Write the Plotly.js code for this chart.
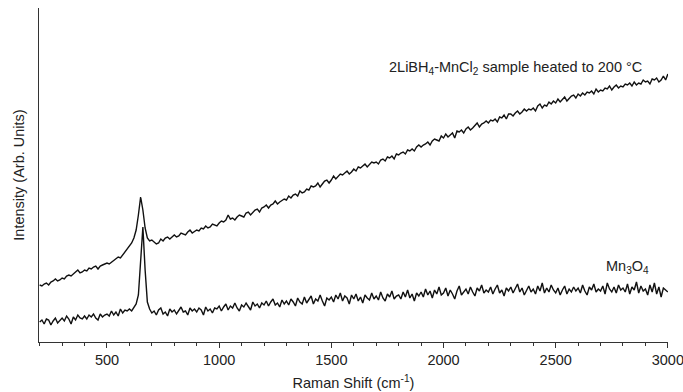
<!DOCTYPE html>
<html>
<head>
<meta charset="utf-8">
<script src="https://cdn.plot.ly/plotly-3.0.1.min.js"></script>
<style>html,body{margin:0;padding:0;background:#fff;}#chart{width:683px;height:392px;}</style>
</head>
<body>
<div id="chart"></div>
<script>
// Raman shift sampling grid (cm^-1)
var shiftStart = 200;
var shiftStep = 10;

// 2LiBH4-MnCl2 sample heated to 200 °C (arb. units), 200..3000 step 10
var libh4Intensity = [
  57, 56, 58, 59, 57, 60, 61, 63, 61, 62,
  64, 63, 66, 67, 66, 68, 70, 72, 69, 70,
  72, 71, 74, 73, 75, 76, 73, 76, 77, 78,
  79, 78, 80, 82, 83, 85, 84, 87, 90, 93,
  96, 99, 104, 112, 127, 145, 132, 114, 104, 101,
  102, 100, 98, 99, 103, 101, 104, 105, 103, 105,
  107, 105, 106, 109, 108, 107, 110, 112, 109, 111,
  112, 111, 114, 113, 116, 114, 115, 118, 117, 116,
  119, 121, 120, 122, 127, 123, 124, 122, 125, 127,
  126, 125, 129, 130, 127, 129, 132, 133, 130, 134,
  135, 137, 134, 137, 138, 141, 138, 140, 142, 143,
  142, 146, 144, 147, 148, 146, 151, 149, 150, 153,
  152, 156, 155, 156, 159, 155, 158, 161, 162, 159,
  162, 166, 163, 165, 168, 167, 169, 171, 168, 170,
  173, 171, 175, 174, 176, 178, 175, 177, 180, 179,
  180, 178, 182, 183, 181, 185, 184, 186, 183, 188,
  187, 189, 190, 188, 192, 191, 193, 191, 195, 197,
  195, 197, 198, 200, 197, 201, 203, 202, 201, 206,
  204, 208, 205, 207, 209, 204, 211, 210, 212, 209,
  213, 215, 212, 214, 216, 219, 215, 218, 219, 221,
  219, 222, 221, 223, 220, 225, 224, 227, 223, 228,
  228, 226, 229, 231, 228, 230, 233, 231, 233, 232,
  234, 231, 236, 238, 234, 237, 236, 240, 238, 241,
  239, 243, 240, 242, 245, 241, 244, 246, 247, 244,
  248, 246, 249, 247, 250, 249, 251, 248, 253, 250,
  252, 251, 254, 253, 256, 252, 255, 257, 254, 256,
  255, 258, 257, 259, 256, 260, 257, 259, 258, 262,
  260, 261, 258, 263, 262, 264, 260, 262, 266, 262,
  268
];

// Mn3O4 reference (arb. units), 200..3000 step 10
var mn3o4Intensity = [
  20, 22, 18, 23, 22, 17, 21, 24, 19, 22,
  24, 21, 26, 23, 18, 25, 22, 27, 24, 23,
  26, 23, 27, 25, 28, 24, 22, 28, 25, 27,
  28, 26, 31, 27, 30, 26, 33, 29, 32, 31,
  33, 31, 35, 38, 47, 78, 115, 72, 40, 33,
  29, 31, 27, 32, 34, 28, 30, 26, 33, 30,
  32, 28, 31, 35, 30, 31, 27, 34, 31, 33,
  30, 34, 32, 27, 35, 31, 33, 29, 34, 33,
  36, 31, 35, 38, 32, 36, 34, 39, 34, 31,
  37, 35, 39, 35, 32, 40, 36, 38, 34, 39,
  37, 41, 36, 40, 43, 37, 39, 35, 42, 38,
  41, 37, 43, 40, 36, 44, 40, 38, 45, 39,
  42, 46, 38, 43, 41, 47, 41, 36, 44, 42,
  45, 40, 47, 43, 49, 41, 46, 44, 38, 47,
  43, 48, 41, 45, 39, 47, 44, 42, 49, 43,
  46, 42, 50, 44, 41, 48, 45, 51, 43, 46,
  47, 43, 50, 45, 52, 44, 48, 41, 49, 46,
  50, 45, 53, 47, 51, 44, 52, 48, 55, 47,
  49, 54, 46, 52, 48, 43, 51, 56, 47, 50,
  53, 48, 55, 50, 46, 54, 51, 57, 49, 52,
  50, 55, 48, 53, 57, 49, 52, 46, 54, 51,
  55, 49, 53, 58, 50, 54, 47, 52, 56, 50,
  53, 48, 56, 51, 59, 49, 54, 50, 57, 52,
  49, 54, 47, 52, 56, 48, 53, 50, 55, 51,
  54, 49, 57, 51, 47, 55, 52, 58, 50, 53,
  51, 56, 48, 59, 53, 50, 55, 49, 57, 52,
  54, 50, 58, 48, 55, 52, 60, 49, 56, 51,
  53, 47, 57, 50, 59, 48, 55, 45, 54, 52,
  50
];

var xTickVals = [500, 1000, 1500, 2000, 2500, 3000];
var xTickText = ["500", "1000", "1500", "2000", "2500", "3000"];

var seriesLabels = [
  "2LiBH<sub>4</sub>-MnCl<sub>2</sub> sample heated to 200 °C",
  "Mn<sub>3</sub>O<sub>4</sub>"
];

var shifts = libh4Intensity.map(function (_, i) { return shiftStart + i * shiftStep; });

var lineStyle = {color: "#111111", width: 1.4};
var traces = [
  {x: shifts, y: libh4Intensity, type: "scatter", mode: "lines", line: lineStyle, name: "LiBH4", hoverinfo: "skip"},
  {x: shifts, y: mn3o4Intensity, type: "scatter", mode: "lines", line: lineStyle, name: "Mn3O4", hoverinfo: "skip"}
];

var font = {family: "Liberation Sans, Arial, sans-serif", size: 14.5, color: "#222222"};

var layout = {
  width: 683, height: 392,
  margin: {l: 39, r: 15, t: 8, b: 50},
  paper_bgcolor: "#ffffff", plot_bgcolor: "#ffffff",
  showlegend: false,
  font: font,
  xaxis: {
    range: [197, 3000.6],
    tickvals: xTickVals, ticktext: xTickText,
    ticklabeloverflow: "allow",
    ticks: "outside", ticklen: 5, tickwidth: 1, tickcolor: "#333",
    minor: {dtick: 100, ticks: "outside", ticklen: 3, tickcolor: "#333", showgrid: false},
    showline: true, linecolor: "#333", linewidth: 1,
    showgrid: false, zeroline: false,
    tickfont: font,
    title: {text: "Raman Shift (cm<sup>-1</sup>)", font: font, standoff: 10}
  },
  yaxis: {
    range: [0, 334],
    showticklabels: false, ticks: "",
    showline: true, linecolor: "#333", linewidth: 1,
    showgrid: false, zeroline: false,
    title: {text: "Intensity (Arb. Units)", font: font, standoff: 9}
  },
  annotations: [
    {x: 2323, y: 274, xref: "x", yref: "y", text: seriesLabels[0], showarrow: false, font: font},
    {x: 2822, y: 75, xref: "x", yref: "y", text: seriesLabels[1], showarrow: false, font: font}
  ]
};

Plotly.newPlot("chart", traces, layout, {staticPlot: true, displayModeBar: false});
</script>
</body>
</html>
